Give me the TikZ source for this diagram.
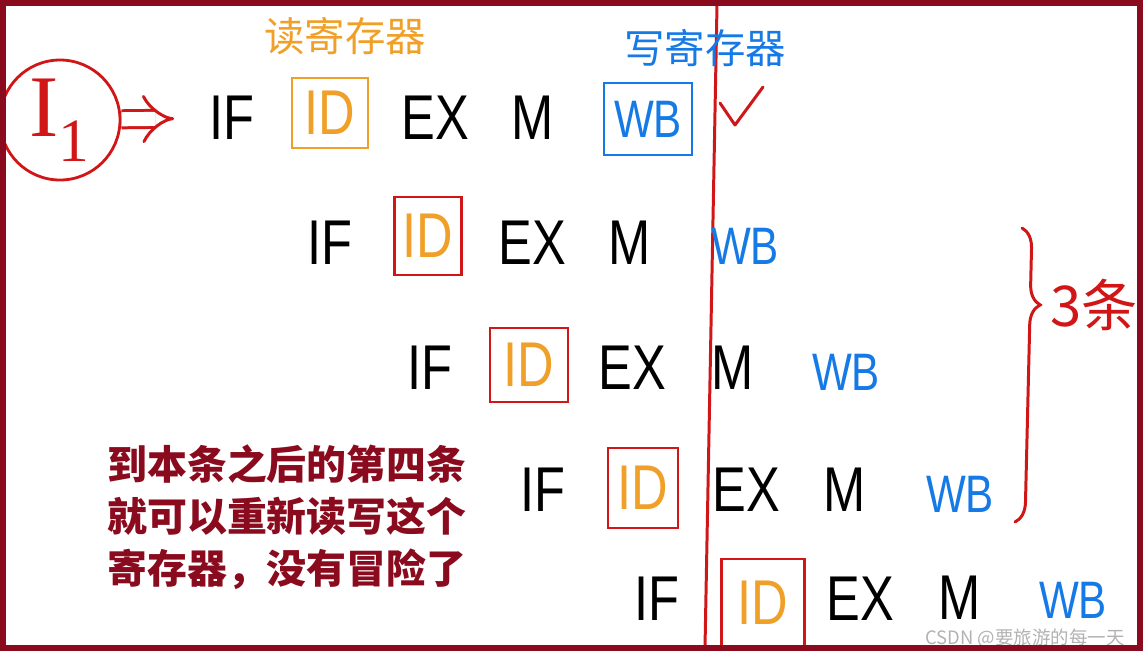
\documentclass[tikz,border=0pt]{standalone}
\usepackage{fontspec}
\usepackage{tikz}
\usetikzlibrary{arrows.meta,decorations.pathreplacing}
\newfontfamily\handfont[FakeStretch=0.8]{Liberation Sans}
\newfontfamily\serifhand{Liberation Serif}
\newfontfamily\cjkfont{Noto Sans CJK SC}
\definecolor{penred}{RGB}{208,22,22}
\definecolor{penorange}{RGB}{240,160,40}
\definecolor{penblue}{RGB}{22,122,230}
\definecolor{darkred}{RGB}{138,10,30}
\pgfdeclarelayer{edgelayer}
\pgfdeclarelayer{nodelayer}
\pgfsetlayers{edgelayer,nodelayer,main}
\tikzstyle{edge}=[draw=penred, line width=1.7pt, line cap=round]
\tikzstyle{stage}=[inner sep=0pt, font=\handfont\fontsize{36}{36}\selectfont]
\tikzstyle{wbstage}=[stage, text=penblue, font=\handfont\fontsize{30}{30}\selectfont]
\tikzstyle{idbox}=[stage, text=penorange, draw=penred, line width=1.6pt]
\tikzstyle{notetext}=[inner sep=0pt, font=\cjkfont\fontsize{23}{23}\selectfont]
\tikzstyle{imp}=[penred, line width=1.7pt, double, double distance=8pt, -{Implies}, shorten >=0.7cm]

\begin{document}
\begin{tikzpicture}
	\useasboundingbox (0, 0) rectangle (22.86, -13.04);
	\draw [darkred, line width=3.6pt] (0.06, -0.06) rectangle (22.8, -12.96);
	\begin{pgfonlayer}{nodelayer}
		\node [circle, draw=penred, line width=1.6pt, minimum size=2.4cm, text=penred, font=\serifhand\fontsize{50}{50}\selectfont] (0) at (1.2, -2.4) {I\textsubscript{1}};
		\node [style=stage] (1) at (4.64, -2.36) {IF};
		\node [style=idbox, draw=penorange, minimum width=1.52cm, minimum height=1.4cm] (2) at (6.6, -2.26) {ID};
		\node [style=stage] (3) at (8.7, -2.36) {EX};
		\node [style=stage] (4) at (10.66, -2.36) {M};
		\node [style=wbstage, draw=penblue, line width=1.6pt, minimum width=1.76cm, minimum height=1.44cm] (5) at (12.96, -2.38) {WB};
		\node [style=stage] (6) at (6.6, -4.86) {IF};
		\node [style=idbox, minimum width=1.34cm, minimum height=1.56cm] (7) at (8.56, -4.72) {ID};
		\node [style=stage] (8) at (10.64, -4.86) {EX};
		\node [style=stage] (9) at (12.6, -4.86) {M};
		\node [style=wbstage] (10) at (14.9, -4.92) {WB};
		\node [style=stage] (11) at (8.6, -7.36) {IF};
		\node [style=idbox, minimum width=1.56cm, minimum height=1.48cm] (12) at (10.58, -7.3) {ID};
		\node [style=stage] (13) at (12.64, -7.36) {EX};
		\node [style=stage] (14) at (14.66, -7.36) {M};
		\node [style=wbstage] (15) at (16.92, -7.44) {WB};
		\node [style=stage] (16) at (10.86, -9.8) {IF};
		\node [style=idbox, minimum width=1.4cm, minimum height=1.6cm] (17) at (12.86, -9.76) {ID};
		\node [style=stage] (18) at (14.92, -9.8) {EX};
		\node [style=stage] (19) at (16.9, -9.8) {M};
		\node [style=wbstage] (20) at (19.2, -9.88) {WB};
		\node [style=stage] (21) at (13.14, -11.98) {IF};
		\node [style=idbox, minimum width=1.66cm, minimum height=1.76cm] (22) at (15.26, -12.06) {ID};
		\node [style=stage] (23) at (17.2, -11.98) {EX};
		\node [style=stage] (24) at (19.2, -11.96) {M};
		\node [style=wbstage] (25) at (21.46, -12.0) {WB};
		\node [style=notetext, text=penorange] (30) at (6.9, -0.72) {读寄存器};
		\node [style=notetext, text=penblue] (31) at (14.1, -0.96) {写寄存器};
		\node [style=notetext, text=penred, font=\cjkfont\fontsize{32}{32}\selectfont] (32) at (21.88, -6.1) {3条};
		\node [style=notetext, anchor=west, align=left, text=darkred, font=\cjkfont\bfseries\fontsize{22.7}{29.5}\selectfont] (33) at (2.14, -10.34) {到本条之后的第四条\\就可以重新读写这个\\寄存器，没有冒险了};
		\node [style=notetext, text=black!30, font=\cjkfont\fontsize{10.5}{10.5}\selectfont] (34) at (20.5, -12.76) {CSDN @要旅游的每一天};
	\end{pgfonlayer}
	\begin{pgfonlayer}{edgelayer}
		\coordinate (26) at (14.34, -0.1);
		\coordinate (27) at (14.1, -12.95);
		\coordinate (28) at (20.44, -4.56);
		\coordinate (29) at (20.3, -10.44);
		\draw [style=imp] (0) to (1);
		\draw [style=edge] (26) to (27);
		\draw [style=edge, decorate, decoration={brace, amplitude=0.4cm, aspect=0.26}] (28) -- (29);
		\draw [style=edge, line join=round] (14.4, -2.06) -- (14.7, -2.5) -- (15.26, -1.74);
	\end{pgfonlayer}
\end{tikzpicture}
\end{document}
